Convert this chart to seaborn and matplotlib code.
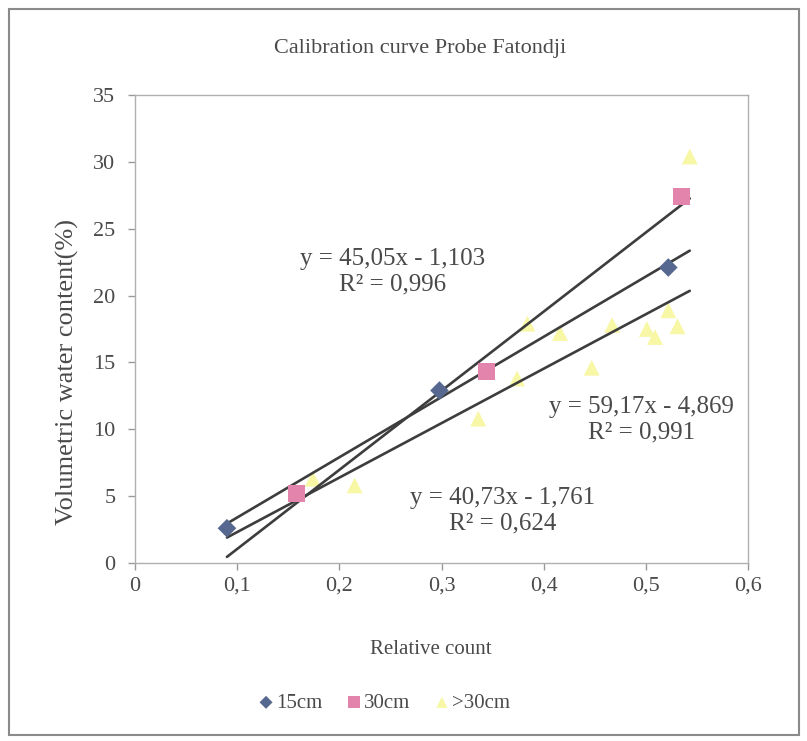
import numpy as np
import pandas as pd
import matplotlib
matplotlib.use("Agg")
import matplotlib.pyplot as plt
import seaborn as sns
from matplotlib.patches import Rectangle

# ---------------- data ----------------
series_names = ["15cm", "30cm", ">30cm"]

x_15 = [0.090, 0.298, 0.522]
y_15 = [2.6, 12.9, 22.1]

x_30 = [0.158, 0.344, 0.535]
y_30 = [5.2, 14.3, 27.4]

x_gt30 = [0.174, 0.215, 0.336, 0.374, 0.384, 0.416, 0.447, 0.467,
          0.501, 0.509, 0.522, 0.531, 0.543]
y_gt30 = [6.3, 5.8, 10.8, 13.8, 17.9, 17.2, 14.6, 17.8,
          17.5, 16.9, 18.9, 17.7, 30.4]

# trendline equations as printed on the chart
slopes = [45.05, 59.17, 40.73]
intercepts = [-1.103, -4.869, -1.761]
eq_labels = ["y = 45,05x - 1,103\nR² = 0,996",
             "y = 59,17x - 4,869\nR² = 0,991",
             "y = 40,73x - 1,761\nR² = 0,624"]

x_ticks = [0, 0.1, 0.2, 0.3, 0.4, 0.5, 0.6]
x_tick_labels = ["0", "0,1", "0,2", "0,3", "0,4", "0,5", "0,6"]
y_ticks = [0, 5, 10, 15, 20, 25, 30, 35]

# ---------------- style ----------------
sns.set_theme(style="white")
plt.rcParams["font.family"] = ["Liberation Serif", "DejaVu Serif"]

colors = {"15cm": "#56688F", "30cm": "#E384AC", ">30cm": "#F7F7A6"}
markers = {"15cm": "D", "30cm": "s", ">30cm": "^"}
sizes = {"15cm": 90, "30cm": 150, ">30cm": 130}
text_col = "#4a4a4a"

df = pd.DataFrame({
    "x": x_15 + x_30 + x_gt30,
    "y": y_15 + y_30 + y_gt30,
    "series": ["15cm"] * len(x_15) + ["30cm"] * len(x_30) + [">30cm"] * len(x_gt30),
})

fig = plt.figure(figsize=(8.07, 7.41), dpi=100)
ax = fig.add_axes([135 / 807, 1 - 563 / 741, (748 - 135) / 807, (563 - 95) / 741])

# trendlines over the overall data range
xr = np.array([df["x"].min(), df["x"].max()])
for s, b in zip(slopes, intercepts):
    sns.lineplot(x=xr, y=s * xr + b, ax=ax, color="#3d3d3d", lw=1.9, zorder=3)

for name in series_names:
    sub = df[df["series"] == name]
    sns.scatterplot(data=sub, x="x", y="y", ax=ax, marker=markers[name],
                    color=colors[name], s=sizes[name], edgecolor="none",
                    label=name, zorder=2 if name == ">30cm" else 4)

ax.set_xlim(0, 0.6)
ax.set_ylim(0, 35)
ax.set_xticks(x_ticks)
ax.set_xticklabels(x_tick_labels)
ax.set_yticks(y_ticks)
ax.tick_params(axis="both", labelsize=16, colors="#999999", labelcolor=text_col,
               length=5, width=1, direction="out", bottom=True, left=True)
ax.tick_params(axis="x", pad=5)
ax.tick_params(axis="y", pad=9)
for sp in ax.spines.values():
    sp.set_color("#b0b0b0")
    sp.set_linewidth(1.0)
ax.set_xlabel("")
ax.set_ylabel("")

# equation labels
eq_pos = [(0.2525, 21.8), (0.496, 10.7), (0.360, 3.9)]
for (ex, ey), lab in zip(eq_pos, eq_labels):
    ax.text(ex, ey, lab, ha="center", va="center", fontsize=18,
            color=text_col, linespacing=1.2, multialignment="center")

# titles
fig.text(420 / 807, 1 - 48 / 741, "Calibration curve Probe Fatondji",
         ha="center", va="center", fontsize=16, color=text_col)
fig.text(431 / 807, 1 - 650 / 741, "Relative count",
         ha="center", va="center", fontsize=15, color=text_col)
fig.text(67 / 807, 1 - 372 / 741, "Volumetric water content(%)",
         ha="center", va="center", rotation=90, fontsize=19, color=text_col)

# legend
sns.move_legend(ax, "center", bbox_to_anchor=(384 / 807, 1 - 703 / 741),
                bbox_transform=fig.transFigure, ncol=3, frameon=False, title=None,
                fontsize=15, handletextpad=0.1, columnspacing=1.1, handlelength=0.8,
                markerscale=0.7, labelcolor=text_col)

# outer chart frame
fig.patches.append(Rectangle((9 / 807, 1 - 735 / 741), (799 - 9) / 807, (735 - 9) / 741,
                             transform=fig.transFigure, fill=False,
                             edgecolor="#8a8a8a", lw=1.5))

fig.savefig("out.png", dpi=100)
